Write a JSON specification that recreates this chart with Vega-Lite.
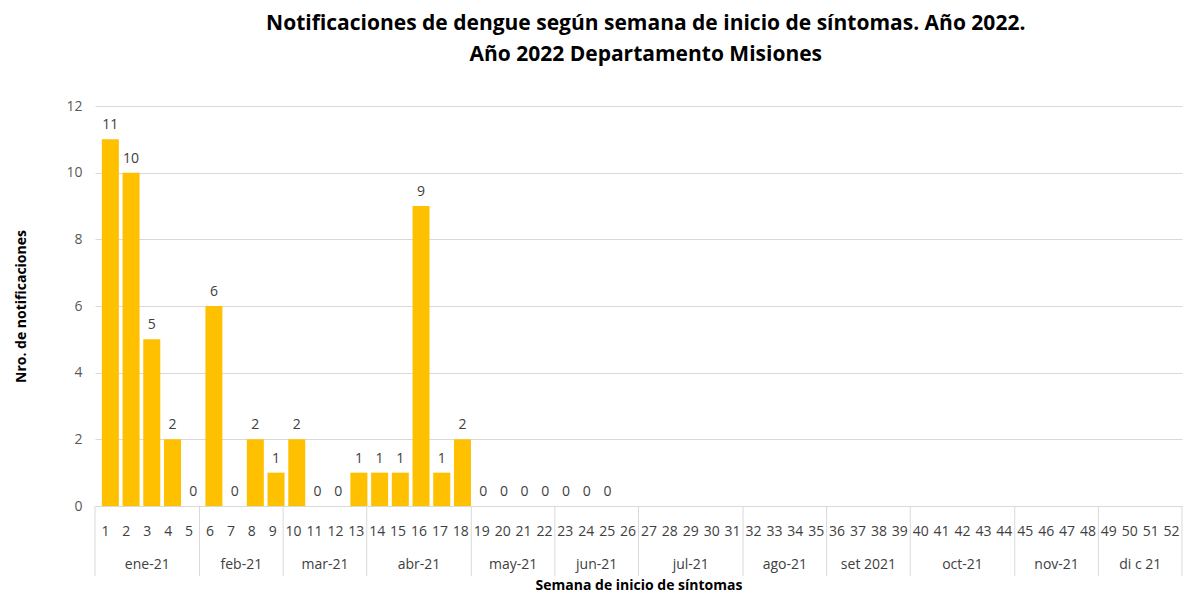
{
  "$schema": "https://vega.github.io/schema/vega-lite/v6.json",
  "padding": {"left": 14, "top": 13, "right": 0, "bottom": 0},
  "background": "white",
  "bounds": "flush",
  "config": {
    "view": {"stroke": null},
    "font": "Open Sans",
    "concat": {"spacing": 0}
  },
  "title": {
    "text": ["Notificaciones de dengue según semana de inicio de síntomas. Año 2022.", "Año 2022 Departamento Misiones"],
    "fontSize": 21,
    "fontWeight": "bold",
    "color": "#000000",
    "lineHeight": 31,
    "anchor": "middle",
    "dx": 47,
    "offset": 34
  },
  "datasets": {
    "weeks": [
      {"week": 1, "n": 11}, {"week": 2, "n": 10}, {"week": 3, "n": 5}, {"week": 4, "n": 2},
      {"week": 5, "n": 0}, {"week": 6, "n": 6}, {"week": 7, "n": 0}, {"week": 8, "n": 2},
      {"week": 9, "n": 1}, {"week": 10, "n": 2}, {"week": 11, "n": 0}, {"week": 12, "n": 0},
      {"week": 13, "n": 1}, {"week": 14, "n": 1}, {"week": 15, "n": 1}, {"week": 16, "n": 9},
      {"week": 17, "n": 1}, {"week": 18, "n": 2}, {"week": 19, "n": 0}, {"week": 20, "n": 0},
      {"week": 21, "n": 0}, {"week": 22, "n": 0}, {"week": 23, "n": 0}, {"week": 24, "n": 0},
      {"week": 25, "n": 0}, {"week": 26, "n": null}, {"week": 27, "n": null}, {"week": 28, "n": null},
      {"week": 29, "n": null}, {"week": 30, "n": null}, {"week": 31, "n": null}, {"week": 32, "n": null},
      {"week": 33, "n": null}, {"week": 34, "n": null}, {"week": 35, "n": null}, {"week": 36, "n": null},
      {"week": 37, "n": null}, {"week": 38, "n": null}, {"week": 39, "n": null}, {"week": 40, "n": null},
      {"week": 41, "n": null}, {"week": 42, "n": null}, {"week": 43, "n": null}, {"week": 44, "n": null},
      {"week": 45, "n": null}, {"week": 46, "n": null}, {"week": 47, "n": null}, {"week": 48, "n": null},
      {"week": 49, "n": null}, {"week": 50, "n": null}, {"week": 51, "n": null}, {"week": 52, "n": null}
    ],
    "months": [
      {"month": "ene-21", "first": 1, "last": 5},
      {"month": "feb-21", "first": 6, "last": 9},
      {"month": "mar-21", "first": 10, "last": 13},
      {"month": "abr-21", "first": 14, "last": 18},
      {"month": "may-21", "first": 19, "last": 22},
      {"month": "jun-21", "first": 23, "last": 26},
      {"month": "jul-21", "first": 27, "last": 31},
      {"month": "ago-21", "first": 32, "last": 35},
      {"month": "set 2021", "first": 36, "last": 39},
      {"month": "oct-21", "first": 40, "last": 44},
      {"month": "nov-21", "first": 45, "last": 48},
      {"month": "di c 21", "first": 49, "last": 52}
    ]
  },
  "vconcat": [
    {
      "width": 1087,
      "height": 400,
      "data": {"name": "weeks"},
      "encoding": {
        "x": {"field": "week", "type": "quantitative", "scale": {"domain": [0.5, 52.5], "nice": false, "zero": false}, "axis": null},
        "y": {
          "field": "n", "type": "quantitative",
          "scale": {"domain": [0, 12], "nice": false},
          "axis": {
            "title": "Nro. de notificaciones",
            "titleFontSize": 14, "titleFontWeight": "bold", "titleColor": "#000000",
            "titlePadding": 37,
            "values": [0, 2, 4, 6, 8, 10, 12],
            "labelFontSize": 14, "labelColor": "#595959", "labelPadding": 13,
            "ticks": false, "tickSize": 0, "domain": false,
            "grid": true, "gridColor": "#d9d9d9", "gridWidth": 1
          }
        }
      },
      "layer": [
        {"mark": {"type": "bar", "color": "#FFC000", "size": 17}},
        {"mark": {"type": "text", "fontSize": 14, "color": "#404040", "baseline": "alphabetic", "dy": -10}, "encoding": {"text": {"field": "n", "type": "quantitative"}}}
      ]
    },
    {
      "width": 1087,
      "height": 70,
      "layer": [
        {
          "data": {"name": "months"},
          "transform": [{"calculate": "datum.last + 0.5", "as": "edge"}],
          "mark": {"type": "rule", "color": "#d9d9d9", "strokeWidth": 1},
          "encoding": {
            "x": {"field": "edge", "type": "quantitative", "scale": {"domain": [0.5, 52.5], "nice": false, "zero": false},
              "axis": {"title": "Semana de inicio de síntomas", "titleFontSize": 14, "titleFontWeight": "bold", "titleColor": "#000000", "labels": false, "ticks": false, "domain": false, "grid": false, "titlePadding": 2}}
          }
        },
        {
          "data": {"values": [{"edge": 0.5}]},
          "mark": {"type": "rule", "color": "#d9d9d9", "strokeWidth": 1},
          "encoding": {"x": {"field": "edge", "type": "quantitative"}}
        },
        {
          "data": {"name": "weeks"},
          "mark": {"type": "text", "fontSize": 14, "color": "#404040", "dy": 8},
          "encoding": {
            "x": {"field": "week", "type": "quantitative"},
            "y": {"datum": "week", "type": "ordinal", "scale": {"type": "point", "domain": ["week", "month"], "padding": 0.5}, "axis": null},
            "text": {"field": "week", "type": "quantitative"}
          }
        },
        {
          "data": {"name": "months"},
          "transform": [{"calculate": "(datum.first + datum.last) / 2", "as": "mid"}],
          "mark": {"type": "text", "fontSize": 14, "color": "#404040", "dy": 6},
          "encoding": {
            "x": {"field": "mid", "type": "quantitative"},
            "y": {"datum": "month", "type": "ordinal"},
            "text": {"field": "month", "type": "nominal"}
          }
        }
      ]
    }
  ]
}
